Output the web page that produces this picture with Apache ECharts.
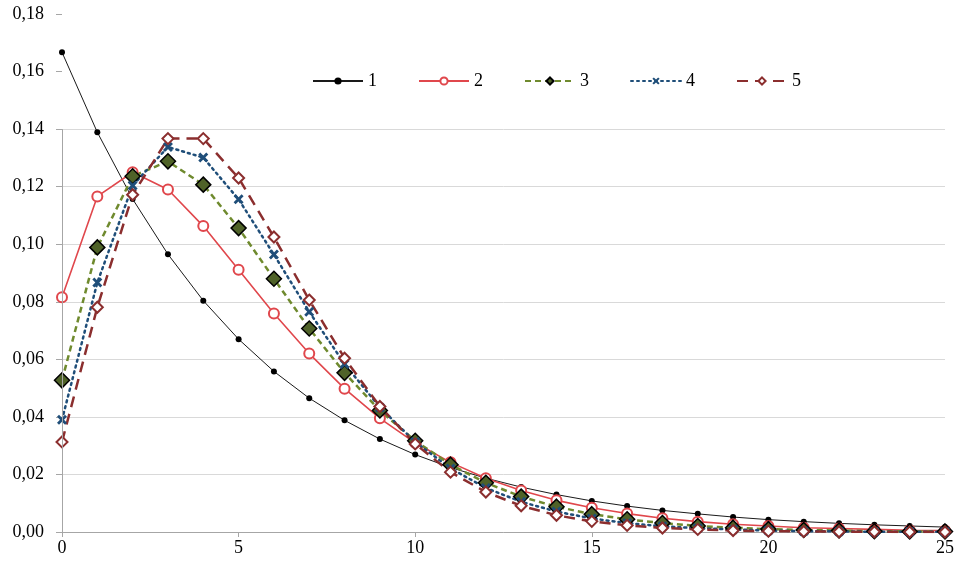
<!DOCTYPE html>
<html>
<head>
<meta charset="utf-8">
<script src="https://cdn.jsdelivr.net/npm/echarts@6/dist/echarts.min.js"></script>
<style>
  html, body { margin: 0; padding: 0; background: #fff; }
  #chart { width: 961px; height: 564px; }
</style>
</head>
<body>
<div id="chart"></div>
<script>
// k = 0..25
const ks = [0,1,2,3,4,5,6,7,8,9,10,11,12,13,14,15,16,17,18,19,20,21,22,23,24,25];

const names = ['1', '2', '3', '4', '5'];

const s1 = [0.1667,0.1389,0.1157,0.0965,0.0804,0.0670,0.0558,0.0465,0.0388,0.0323,0.0269,0.0224,0.0187,
            0.0156,0.0130,0.0108,0.0090,0.0075,0.0063,0.0052,0.0043,0.0036,0.0030,0.0025,0.0021,0.0017];
const s2 = [0.0816,0.1166,0.1250,0.1190,0.1063,0.0911,0.0759,0.0620,0.0498,0.0395,0.0310,0.0242,0.0187,
            0.0144,0.0110,0.0084,0.0064,0.0048,0.0036,0.0027,0.0021,0.0015,0.0012,0.0009,0.0006,0.0005];
const s3 = [0.0527,0.0989,0.1236,0.1288,0.1207,0.1056,0.0880,0.0707,0.0553,0.0422,0.0317,0.0234,0.0171,
            0.0123,0.0088,0.0062,0.0044,0.0031,0.0021,0.0015,0.0010,0.0007,0.0005,0.0003,0.0002,0.0002];
const s4 = [0.0390,0.0867,0.1204,0.1338,0.1301,0.1156,0.0964,0.0765,0.0584,0.0433,0.0313,0.0221,0.0153,
            0.0105,0.0071,0.0047,0.0031,0.0020,0.0013,0.0009,0.0005,0.0003,0.0002,0.0001,0.0001,0.0001];
const s5 = [0.0313,0.0781,0.1172,0.1367,0.1367,0.1230,0.1025,0.0806,0.0604,0.0436,0.0306,0.0208,0.0139,
            0.0091,0.0058,0.0037,0.0023,0.0014,0.0009,0.0005,0.0003,0.0002,0.0001,0.0001,0.0000,0.0000];

const xTicks = [0, 5, 10, 15, 20, 25];
const yTicks = [0, 0.02, 0.04, 0.06, 0.08, 0.10, 0.12, 0.14, 0.16, 0.18];
// horizontal gridlines and the vertical axis line stop at this value
const gridTop = 0.14;

const FONT = '"Liberation Serif", "Times New Roman", serif';
const pairs = arr => ks.map((k, i) => [k, arr[i]]);

// bold "x" marker
const crossPath = 'path://M2,0 L5,3 L8,0 L10,2 L7,5 L10,8 L8,10 L5,7 L2,10 L0,8 L3,5 L0,2 Z';

const chart = echarts.init(document.getElementById('chart'), null, { renderer: 'canvas' });

const gridColors = yTicks.map(v => v <= gridTop + 1e-9 ? '#d9d9d9' : 'rgba(0,0,0,0)');

chart.setOption({
  animation: false,
  backgroundColor: '#ffffff',
  grid: { left: 62, right: 16, top: 14, bottom: 32, containLabel: false },
  legend: {
    left: 307, top: 67,
    itemWidth: 50, itemHeight: 9, itemGap: 41,
    textStyle: { fontFamily: FONT, fontSize: 18, color: '#000' },
    data: names
  },
  xAxis: {
    type: 'value', min: xTicks[0], max: xTicks[xTicks.length - 1], interval: 5,
    axisLine: { show: true, lineStyle: { color: '#a6a6a6', width: 1 } },
    axisTick: { show: true, length: 5, lineStyle: { color: '#a6a6a6' } },
    axisLabel: { fontFamily: FONT, fontSize: 18, color: '#000', margin: 7 },
    splitLine: { show: false }
  },
  yAxis: {
    type: 'value', min: yTicks[0], max: yTicks[yTicks.length - 1], interval: 0.02,
    axisLine: { show: false },
    axisTick: { show: true, length: 6, lineStyle: { color: '#a6a6a6' } },
    axisLabel: {
      fontFamily: FONT, fontSize: 18, color: '#000', margin: 18,
      formatter: v => v.toFixed(2).replace('.', ',')
    },
    splitLine: { show: true, lineStyle: { color: gridColors, width: 1 } }
  },
  series: [
    {
      name: names[0], type: 'line', data: pairs(s1),
      symbol: 'circle', symbolSize: 6,
      itemStyle: { color: '#000' },
      lineStyle: { color: '#1a1a1a', width: 1 },
      markLine: {
        silent: true, symbol: 'none', label: { show: false },
        lineStyle: { color: '#a6a6a6', width: 1, type: 'solid' },
        data: [[{ coord: [0, 0] }, { coord: [0, gridTop] }]]
      }
    },
    {
      name: names[1], type: 'line', data: pairs(s2),
      symbol: 'circle', symbolSize: 10,
      itemStyle: { color: '#fff', borderColor: '#e0474c', borderWidth: 2 },
      lineStyle: { color: '#e0474c', width: 1.6 }
    },
    {
      name: names[2], type: 'line', data: pairs(s3),
      symbol: 'diamond', symbolSize: 15,
      itemStyle: { color: '#4f6228', borderColor: '#000', borderWidth: 1.5 },
      lineStyle: { color: '#6f8a2e', width: 2.5, type: [6, 4] }
    },
    {
      name: names[3], type: 'line', data: pairs(s4),
      symbol: crossPath, symbolSize: 10,
      itemStyle: { color: '#1f4e79' },
      lineStyle: { color: '#1f4e79', width: 2.5, type: [2, 4], cap: 'round' }
    },
    {
      name: names[4], type: 'line', data: pairs(s5),
      symbol: 'diamond', symbolSize: 11,
      itemStyle: { color: '#fff', borderColor: '#8b2e2e', borderWidth: 2 },
      lineStyle: { color: '#8b2e2e', width: 2.5, type: [11, 7] }
    }
  ]
});
</script>
</body>
</html>
